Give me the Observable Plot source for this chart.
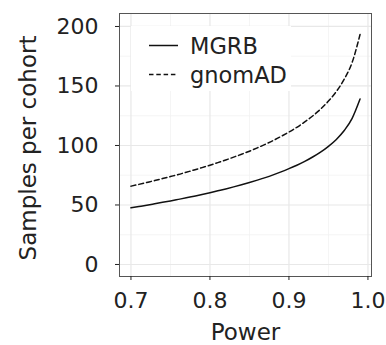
<!DOCTYPE html>
<html><head><meta charset="utf-8">
<script src="https://cdn.jsdelivr.net/npm/d3@7"></script>
<script src="https://cdn.jsdelivr.net/npm/@observablehq/plot@0.6"></script>
<style>
body{margin:0;background:#fff;}
#chart{width:386px;height:345px;}
</style>
</head><body><div id="chart"></div>
<script>
const power = [0.70,0.71,0.72,0.73,0.74,0.75,0.76,0.77,0.78,0.79,0.80,0.81,0.82,0.83,0.84,0.85,0.86,0.87,0.88,0.89,0.90,0.91,0.92,0.93,0.94,0.95,0.96,0.97,0.98,0.99];
const mgrb = [47.6,48.7,49.8,51.0,52.2,53.4,54.7,56.0,57.4,58.8,60.3,61.9,63.5,65.2,67.0,68.9,70.9,73.0,75.3,77.8,80.5,83.4,86.6,90.3,94.4,99.3,105.1,112.6,122.8,139.0];
const gnomad = [65.8,67.3,68.9,70.5,72.2,73.9,75.6,77.5,79.4,81.4,83.4,85.6,87.8,90.2,92.6,95.2,98.0,101.0,104.1,107.6,111.3,115.3,119.8,124.8,130.5,137.3,145.4,155.7,169.8,193.3];
const seriesNames = ["MGRB", "gnomAD"];
const seriesDash = ["none", "5,3"];
const xTicks = [0.7, 0.8, 0.9, 1.0];
const xTickLabels = ["0.7", "0.8", "0.9", "1.0"];
const xMinor = [0.75, 0.85, 0.95];
const yTicks = [0, 50, 100, 150, 200];
const yMinor = [25, 75, 125, 175];
const xTitle = "Power";
const yTitle = "Samples per cohort";

const rows = [];
power.forEach((p, i) => {
  rows.push({power: p, n: mgrb[i], cohort: seriesNames[0]});
  rows.push({power: p, n: gnomad[i], cohort: seriesNames[1]});
});

const font = "DejaVu Sans";
const plot = Plot.plot({
  width: 386, height: 345,
  marginLeft: 119, marginRight: 15, marginTop: 13, marginBottom: 69,
  style: {fontFamily: font, background: "white", overflow: "visible"},
  x: {domain: [0.6855, 1.0045]},
  y: {domain: [-10.1, 210.9]},
  marks: [
    Plot.ruleX(xMinor, {stroke: "#f3f3f3", strokeWidth: 0.8}),
    Plot.ruleY(yMinor, {stroke: "#f3f3f3", strokeWidth: 0.8}),
    Plot.ruleX(xTicks, {stroke: "#e8e8e8", strokeWidth: 1.2}),
    Plot.ruleY(yTicks, {stroke: "#e8e8e8", strokeWidth: 1.2}),
    Plot.line(rows.filter(d => d.cohort === seriesNames[0]), {x: "power", y: "n", stroke: "#111", strokeWidth: 1.5, curve: "monotone-x"}),
    Plot.line(rows.filter(d => d.cohort === seriesNames[1]), {x: "power", y: "n", stroke: "#111", strokeWidth: 1.5, strokeDasharray: seriesDash[1], curve: "monotone-x"}),
    Plot.frame({stroke: "#555", strokeWidth: 1}),
    Plot.axisX(xTicks, {tickSize: 4, tickPadding: 12, fontSize: 22, label: null, color: "#222",
      tickFormat: d => xTickLabels[xTicks.indexOf(d)]}),
    Plot.axisY(yTicks, {tickSize: 4, tickPadding: 17, fontSize: 22, label: null, color: "#222"}),
    Plot.text([xTitle], {frameAnchor: "bottom", dy: 63, fontSize: 23, fill: "#222", text: d => d}),
    Plot.text([yTitle], {frameAnchor: "left", textAnchor: "middle", dx: -91, dy: 3, rotate: -90, fontSize: 23, fill: "#222", text: d => d})
  ]
});
document.getElementById("chart").appendChild(plot);

// legend (layout only)
const svg = d3.select(plot);
const lg = svg.append("g").attr("font-family", font).attr("text-anchor", "start");
lg.append("rect").attr("x", 131).attr("y", 26).attr("width", 160).attr("height", 65).attr("fill", "white");
seriesNames.forEach((name, i) => {
  const y = 45.5 + i * 29;
  lg.append("line").attr("x1", 149).attr("x2", 178).attr("y1", y).attr("y2", y)
    .attr("stroke", "#111").attr("stroke-width", 1.5)
    .attr("stroke-dasharray", i === 0 ? null : "4.5,2.8");
  lg.append("text").attr("x", 190).attr("y", y).attr("dy", "0.36em")
    .attr("text-anchor", "start")
    .attr("font-size", "22.5px").attr("fill", "#222").text(name);
});
</script>
</body></html>
